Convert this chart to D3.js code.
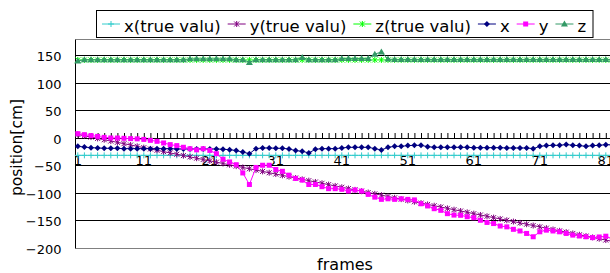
<!DOCTYPE html>
<html><head><meta charset="utf-8">
<script src="https://cdn.jsdelivr.net/npm/d3@7/dist/d3.min.js"></script>
<style>
html,body{margin:0;padding:0;background:#fff;overflow:hidden}
svg{display:block}
text{font-family:"DejaVu Sans",Verdana,sans-serif;fill:#000}
</style>
</head><body>
<svg id="chart" width="610" height="273"></svg>
<script>
// ---------- data ----------
const frames = [1,2,3,4,5,6,7,8,9,10,11,12,13,14,15,16,17,18,19,20,21,22,23,24,25,26,27,28,29,30,
  31,32,33,34,35,36,37,38,39,40,41,42,43,44,45,46,47,48,49,50,51,52,53,54,55,56,57,58,59,60,
  61,62,63,64,65,66,67,68,69,70,71,72,73,74,75,76,77,78,79,80,81,82];
const xTickLabels = [1,11,21,31,41,51,61,71,81];
const yTicks = [150,100,50,0,-50,-100,-150,-200];
const seriesNames = ["x(true valu)","y(true valu)","z(true valu)","x","y","z"];

const xTrue = [-31,-31,-31,-31,-31,-31,-31,-31,-31,-31,-31,-31,-31,-31,-31,-31,-31,-31,-31,-31,
  -31,-31,-31,-31,-31,-31,-31,-31,-31,-31,-31,-31,-31,-31,-31,-31,-31,-31,-31,-31,
  -31,-31,-31,-31,-31,-31,-31,-31,-31,-31,-31,-31,-31,-31,-31,-31,-31,-31,-31,-31,
  -31,-31,-31,-31,-31,-31,-31,-31,-31,-31,-31,-31,-31,-31,-31,-31,-31,-31,-31,-31,-31,-31];
const yTrue = [7,4.6,2.2,-0.2,-2.6,-5,-7.4,-9.8,-12.2,-14.6,-17,-19.4,-21.8,-24.2,-26.6,-29,-31.4,-33.8,-36.2,-38.6,
  -41,-43.4,-45.8,-48.2,-50.6,-53,-55.4,-57.8,-60.2,-62.6,-65,-67.4,-69.8,-72.2,-74.6,-77,-79.4,-81.8,-84.2,-86.6,
  -89,-91.4,-93.8,-96.2,-98.6,-101,-103.4,-105.8,-108.2,-110.6,-113,-115.4,-117.8,-120.2,-122.6,-125,-127.4,-129.8,-132.2,-134.6,
  -137,-139.4,-141.8,-144.2,-146.6,-149,-151.4,-153.8,-156.2,-158.6,-161,-163.4,-165.8,-168.2,-170.6,-173,-175.4,-177.8,-180.2,-182.6,
  -185,-187.4];
const zTrue = [142.5,142.5,142.5,142.5,142.5,142.5,142.5,142.5,142.5,142.5,142.5,142.5,142.5,142.5,142.5,142.5,142.5,142.5,142.5,142.5,
  142.5,142.5,142.5,142.5,142.5,142.5,142.5,142.5,142.5,142.5,142.5,142.5,142.5,142.5,142.5,142.5,142.5,142.5,142.5,142.5,
  142.5,142.5,142.5,142.5,142.5,142.5,142.5,142.5,142.5,142.5,142.5,142.5,142.5,142.5,142.5,142.5,142.5,142.5,142.5,142.5,
  142.5,142.5,142.5,142.5,142.5,142.5,142.5,142.5,142.5,142.5,142.5,142.5,142.5,142.5,142.5,142.5,142.5,142.5,142.5,142.5,142.5,142.5];
const xMeas = [-14.5,-16,-17,-17.6,-18.2,-18.2,-18.2,-18.8,-18.8,-18.8,-18.8,-18.8,-18.8,-18.8,-18.8,-19.4,-19.4,-19.4,-19.4,-19.4,
  -19.4,-19.4,-20,-20.6,-22.4,-25,-28,-18.8,-17.6,-17.6,-18.2,-18.2,-19.4,-22.4,-23.6,-26.6,-20,-18.8,-18.8,-18.8,
  -17.6,-16.4,-16.4,-16.4,-16.4,-18.8,-21.2,-16.4,-14.6,-14.6,-13.3,-12.8,-12.8,-15.2,-16.4,-16.4,-16.4,-16.4,-16.4,-16.4,
  -17,-17,-17,-17,-17,-17.6,-17.6,-17.6,-17.6,-18.8,-14.6,-13.3,-12.8,-12.8,-11.3,-12.8,-13.3,-14.6,-13.3,-12.8,
  -11.5,-12];
const yMeas = [8.4,6.6,5,3.5,1.7,0.6,0.5,0,-0.6,-1,-2,-3.7,-5.5,-8.5,-11.5,-13.3,-16.3,-19,-21,-19,
  -22,-28,-38,-43,-48,-63,-84,-53,-49,-49,-56.8,-60,-67,-73,-76,-84,-84,-88,-91.6,-91.6,
  -92.8,-95.9,-94,-96,-102,-107,-111,-110,-111,-110,-111,-112,-119,-123,-128,-131,-137,-139.6,-140,-142.6,
  -144.4,-149,-153,-155,-159.5,-161,-165.5,-168.5,-173,-179,-170,-167,-168.5,-170,-173,-176,-177.6,-179,-180.6,-179.4,
  -178,-183];
const zMeas = [140.5,143,143,143,143,143,143,143,143,143,143,143,143,143,143,143,143,144.5,144.5,144.5,
  144.5,144.5,144.5,144.5,143,143,138,143,143,143,143,143,143,143,147,143,143,143,143,143,
  145,145,145,145,145,153,157,144,143.5,143.5,143.5,143.5,143.5,143.5,143.5,143.5,143.5,143.5,143.5,143.5,
  143.5,143.5,143.5,143.5,143.5,143.5,143.5,143.5,143.5,143.5,143.5,143.5,143.5,143.5,143.5,143.5,143.5,143.5,143.5,143.5,
  143.5,143.5];

const seriesValues = [xTrue, yTrue, zTrue, xMeas, yMeas, zMeas];
const seriesColors = ["#33CCCC","#800080","#00FF00","#000080","#FF00FF","#339966"];
const seriesMarkers = ["plus","star","star","diamond","square","triangle"];

// ---------- layout ----------
const svg = d3.select("#chart");
const plotL = 75, plotR = 610;
const x = d3.scaleLinear().domain([1, 81]).range([77.8, 77.8 + 80 * 6.6]);
const y = d3.scaleLinear().domain([-200, 180]).range([248.3, 39.3]);
const crisp = v => Math.floor(v) + 0.5;

// gridlines
svg.append("g").selectAll("line")
  .data(yTicks.filter(v => v !== 0 && v !== -200))
  .join("line")
  .attr("x1", plotL + 0.5).attr("x2", plotR)
  .attr("y1", d => crisp(y(d))).attr("y2", d => crisp(y(d)))
  .attr("stroke", "#000").attr("stroke-width", 1);

// plot border top & bottom
[180, -200].forEach(v => {
  svg.append("line").attr("x1", plotL + 0.5).attr("x2", plotR)
    .attr("y1", crisp(y(v))).attr("y2", crisp(y(v)))
    .attr("stroke", "#808080").attr("stroke-width", 1);
});

// y axis
const yAxis = d3.axisLeft(y).tickValues(yTicks).tickSize(0).tickPadding(14);
const gy = svg.append("g").attr("transform", `translate(${plotL + 0.5},0)`).call(yAxis);
gy.select(".domain").remove();
gy.selectAll("text").attr("font-size", 13).attr("font-family", '"DejaVu Sans",sans-serif')
  .attr("y", 1);
svg.append("line").attr("x1", plotL + 0.5).attr("x2", plotL + 0.5)
  .attr("y1", crisp(y(180))).attr("y2", crisp(y(-200)))
  .attr("stroke", "#000");

// x axis at zero
const y0 = crisp(y(0)) - 0.5;
const xAxis = d3.axisBottom(x).tickValues(frames).tickSize(-5)
  .tickFormat(d => xTickLabels.includes(d) ? String(d) : "");
const gx = svg.append("g").attr("transform", `translate(0,${y0})`).call(xAxis);
gx.select(".domain").remove();
gx.selectAll(".tick line").attr("stroke", "#000");
gx.selectAll("text").attr("font-size", 13).attr("font-family", '"DejaVu Sans",sans-serif')
  .attr("y", 26.5).attr("dy", null).attr("dx", -0.5);
svg.append("line").attr("x1", plotL).attr("x2", plotR)
  .attr("y1", y0 + 0.5).attr("y2", y0 + 0.5).attr("stroke", "#000");

// axis titles
svg.append("text").attr("x", 345).attr("y", 269.5).attr("text-anchor", "middle")
  .attr("font-size", 16).text("frames");
svg.append("text").attr("transform", "translate(21.8,147.5) rotate(-90)")
  .attr("text-anchor", "middle").attr("font-size", 15.5).text("position[cm]");

// markers
function marker(g, type, cx, cy, color) {
  if (type === "plus") {
    g.append("path").attr("d", `M${cx-3},${cy}h6M${cx},${cy-3}v6`)
      .attr("stroke", color).attr("stroke-width", 1).attr("fill", "none");
  } else if (type === "star") {
    g.append("path").attr("d", `M${cx-2.5},${cy-2.5}l5,5M${cx-2.5},${cy+2.5}l5,-5M${cx},${cy-3}v6`)
      .attr("stroke", color).attr("stroke-width", 1).attr("fill", "none");
  } else if (type === "diamond") {
    g.append("path").attr("d", `M${cx},${cy-3}L${cx+3},${cy}L${cx},${cy+3}L${cx-3},${cy}Z`)
      .attr("fill", color);
  } else if (type === "square") {
    g.append("rect").attr("x", cx-2.5).attr("y", cy-2.5).attr("width", 5).attr("height", 5)
      .attr("fill", color);
  } else if (type === "triangle") {
    g.append("path").attr("d", `M${cx},${cy-3.5}L${cx+3.5},${cy+2.5}L${cx-3.5},${cy+2.5}Z`)
      .attr("fill", color);
  }
}

// series
const line = d3.line().x(d => x(d[0])).y(d => y(d[1]));
seriesValues.forEach((vals, si) => {
  const pts = frames.map((f, i) => [f, vals[i]]);
  const g = svg.append("g");
  g.append("path").attr("d", line(pts)).attr("fill", "none")
    .attr("stroke", seriesColors[si]).attr("stroke-width", 1);
  pts.forEach(p => marker(g, seriesMarkers[si], x(p[0]), y(p[1]), seriesColors[si]));
});

// legend
const lg = svg.append("g");
lg.append("rect").attr("x", 96.5).attr("y", 10.5).attr("width", 496.5).attr("height", 27)
  .attr("fill", "#fff").attr("stroke", "#000");
let sx = 102;
seriesNames.forEach((name, si) => {
  const cy = 24;
  lg.append("line").attr("x1", sx).attr("x2", sx + 18).attr("y1", cy).attr("y2", cy)
    .attr("stroke", seriesColors[si]);
  marker(lg, seriesMarkers[si], sx + 9, cy, seriesColors[si]);
  const t = lg.append("text").attr("x", sx + 22).attr("y", 31.5).attr("font-size", 16.5).text(name);
  const w = t.node().getComputedTextLength();
  sx = sx + 22 + w + 7;
});
</script>
</body></html>
